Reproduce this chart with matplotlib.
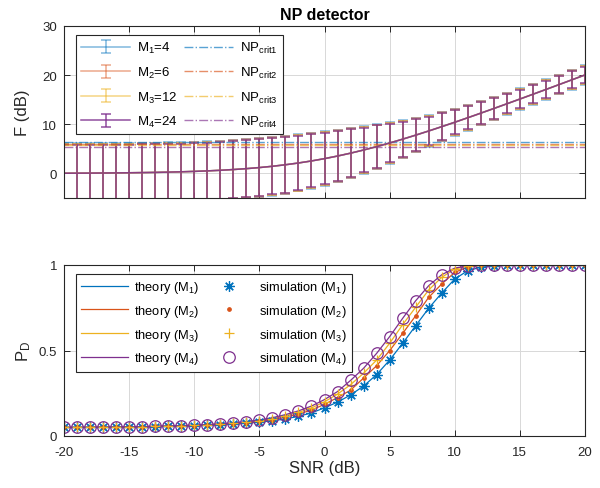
import matplotlib
matplotlib.use("Agg")
import matplotlib.pyplot as plt
import numpy as np

plt.rcParams['font.family'] = ['Liberation Sans', 'DejaVu Sans']
plt.rcParams['mathtext.fontset'] = 'custom'
plt.rcParams['mathtext.rm'] = 'Liberation Sans'
plt.rcParams['mathtext.it'] = 'Liberation Sans:italic'
plt.rcParams['axes.unicode_minus'] = False

# ---------------- data ----------------
snr = list(range(-20, 21))

F_mean = [0.043, 0.054, 0.068, 0.086, 0.108, 0.135, 0.170, 0.212, 0.266, 0.332,
          0.414, 0.515, 0.639, 0.791, 0.973, 1.193, 1.455, 1.764, 2.124, 2.539,
          3.010, 3.539, 4.124, 4.764, 5.455, 6.193, 6.973, 7.791, 8.639, 9.515,
          10.414, 11.332, 12.266, 13.212, 14.170, 15.135, 16.108, 17.086, 18.068, 19.054,
          20.043]

err_M1 = [6.05, 6.05, 6.05, 6.05, 6.05, 6.05, 6.05, 6.05, 6.05, 6.05,
          6.05, 6.05, 6.05, 6.05, 6.05, 6.05, 6.00, 5.95, 5.80, 5.70,
          5.55, 5.35, 5.15, 4.85, 4.60, 4.25, 3.85, 3.50, 3.20, 3.00,
          2.75, 2.60, 2.50, 2.35, 2.25, 2.15, 2.10, 2.05, 2.00, 2.00,
          1.95]
err_M2 = [5.95, 5.95, 5.95, 5.95, 5.95, 5.95, 5.95, 5.95, 5.95, 5.95,
          5.95, 5.95, 5.95, 5.95, 5.95, 5.95, 5.90, 5.85, 5.70, 5.60,
          5.45, 5.25, 5.05, 4.75, 4.50, 4.15, 3.75, 3.40, 3.10, 2.90,
          2.65, 2.50, 2.40, 2.25, 2.15, 2.05, 2.00, 1.95, 1.90, 1.90,
          1.85]
err_M3 = [5.85, 5.85, 5.85, 5.85, 5.85, 5.85, 5.85, 5.85, 5.85, 5.85,
          5.85, 5.85, 5.85, 5.85, 5.85, 5.85, 5.80, 5.75, 5.60, 5.50,
          5.35, 5.15, 4.95, 4.65, 4.40, 4.05, 3.65, 3.30, 3.00, 2.80,
          2.55, 2.40, 2.30, 2.15, 2.05, 1.95, 1.90, 1.85, 1.80, 1.80,
          1.75]
err_M4 = [5.75, 5.75, 5.75, 5.75, 5.75, 5.75, 5.75, 5.75, 5.75, 5.75,
          5.75, 5.75, 5.75, 5.75, 5.75, 5.75, 5.70, 5.65, 5.50, 5.40,
          5.25, 5.05, 4.85, 4.55, 4.30, 3.95, 3.55, 3.20, 2.90, 2.70,
          2.45, 2.30, 2.20, 2.05, 1.95, 1.85, 1.80, 1.75, 1.70, 1.70,
          1.65]

np_crit = [6.45, 6.05, 5.70, 5.30]

PD_M1 = [0.050, 0.050, 0.051, 0.051, 0.052, 0.053, 0.054, 0.055, 0.056, 0.058,
         0.060, 0.063, 0.066, 0.070, 0.075, 0.081, 0.089, 0.100, 0.115, 0.135,
         0.165, 0.198, 0.240, 0.292, 0.359, 0.444, 0.542, 0.645, 0.747, 0.836,
         0.918, 0.967, 0.987, 0.996, 1.0, 1.0, 1.0, 1.0, 1.0, 1.0, 1.0]
PD_M2 = [0.050, 0.050, 0.051, 0.051, 0.052, 0.053, 0.054, 0.056, 0.057, 0.059,
         0.061, 0.064, 0.068, 0.072, 0.078, 0.086, 0.096, 0.110, 0.128, 0.152,
         0.185, 0.225, 0.268, 0.339, 0.411, 0.499, 0.600, 0.703, 0.811, 0.889,
         0.957, 0.988, 0.998, 1.0, 1.0, 1.0, 1.0, 1.0, 1.0, 1.0, 1.0]
PD_M3 = [0.050, 0.051, 0.051, 0.052, 0.053, 0.054, 0.055, 0.056, 0.058, 0.060,
         0.063, 0.066, 0.070, 0.075, 0.081, 0.090, 0.102, 0.118, 0.138, 0.164,
         0.200, 0.245, 0.300, 0.367, 0.444, 0.542, 0.651, 0.753, 0.854, 0.928,
         0.977, 0.993, 0.999, 1.0, 1.0, 1.0, 1.0, 1.0, 1.0, 1.0, 1.0]
PD_M4 = [0.050, 0.051, 0.051, 0.052, 0.053, 0.054, 0.055, 0.057, 0.059, 0.061,
         0.064, 0.067, 0.071, 0.077, 0.084, 0.094, 0.107, 0.125, 0.147, 0.175,
         0.213, 0.260, 0.325, 0.396, 0.483, 0.581, 0.688, 0.791, 0.879, 0.943,
         0.982, 0.995, 0.999, 1.0, 1.0, 1.0, 1.0, 1.0, 1.0, 1.0, 1.0]

M_vals = [4, 6, 12, 24]
colors = ['#0072BD', '#D95319', '#EDB120', '#7E2F8E']
err_list = [err_M1, err_M2, err_M3, err_M4]
PD_list = [PD_M1, PD_M2, PD_M3, PD_M4]
sim_markers = [(8, 2, 0), '.', '+', 'o']

x_ticks = [-20, -15, -10, -5, 0, 5, 10, 15, 20]

# ---------------- figure ----------------
fig = plt.figure(figsize=(6.0, 4.89), dpi=100)
W, H = 600.0, 489.0
ax1 = fig.add_axes([64 / W, 1 - 199 / H, 521 / W, 172 / H])
ax2 = fig.add_axes([64 / W, 1 - 437 / H, 521 / W, 171 / H])

axcol = '#262626'
for ax in (ax1, ax2):
    ax.set_xlim(-20, 20)
    ax.set_xticks(x_ticks)
    ax.grid(True, color='#d8d8d8', linewidth=0.7)
    ax.set_axisbelow(True)
    ax.tick_params(direction='in', top=True, right=True, length=4,
                   width=0.7, colors=axcol, labelsize=9.5)
    ax.tick_params(axis='x', pad=7)
    ax.tick_params(axis='y', pad=5)
    for s in ax.spines.values():
        s.set_color(axcol)
        s.set_linewidth(0.8)

# ---- top: F (dB) ----
alphas = [0.5, 0.5, 0.55, 0.85]
handles1 = []
for i in range(4):
    eb = ax1.errorbar(snr, F_mean, yerr=err_list[i], color=colors[i],
                      capsize=3.3, elinewidth=1.1, capthick=1.1, linewidth=1.1,
                      alpha=alphas[i], label='M$_{%d}$=%d' % (i + 1, M_vals[i]))
    handles1.append(eb)
handles_np = []
for i in range(4):
    ln, = ax1.plot([-20, 20], [np_crit[i], np_crit[i]], linestyle='-.',
                   color=colors[i], linewidth=1.0, alpha=0.65,
                   label='NP$_{\\rm crit%d}$' % (i + 1))
    handles_np.append(ln)
ax1.set_ylim(-5, 30)
ax1.set_yticks([0, 10, 20, 30])
ax1.tick_params(labelbottom=False)
ax1.set_ylabel('F (dB)', fontsize=12, color=axcol, labelpad=9)
ax1.set_title('NP detector', fontsize=11.5, fontweight='bold', color='black', pad=5)
leg1 = ax1.legend(handles1 + handles_np,
                  [h.get_label() for h in handles1] + [h.get_label() for h in handles_np],
                  ncol=2, loc='upper left', bbox_to_anchor=(76 / W, 1 - 36 / H),
                  bbox_transform=fig.transFigure, fontsize=9.5, frameon=True,
                  fancybox=False, edgecolor=axcol, framealpha=1,
                  handlelength=3.7, handletextpad=0.5, columnspacing=0.5,
                  labelspacing=0.72, borderpad=0.4, borderaxespad=0)
leg1.get_frame().set_linewidth(0.8)

# ---- bottom: PD ----
th_handles = []
for i in range(4):
    ln, = ax2.plot(snr, PD_list[i], color=colors[i], linewidth=0.9,
                   label='theory (M$_{%d}$)' % (i + 1))
    th_handles.append(ln)
sim_handles = []
sizes = [7.5, 5, 7.5, 8.3]
for i in range(4):
    mfc = 'none' if i == 3 else colors[i]
    ln, = ax2.plot(snr, PD_list[i], linestyle='none', marker=sim_markers[i],
                   markersize=sizes[i], markerfacecolor=mfc,
                   markeredgecolor=colors[i], markeredgewidth=0.9,
                   label='simulation (M$_{%d}$)' % (i + 1))
    sim_handles.append(ln)
ax2.set_ylim(0, 1)
ax2.set_yticks([0, 0.5, 1])
ax2.set_yticklabels(['0', '0.5', '1'])
ax2.set_xlabel('SNR (dB)', fontsize=12, color=axcol, labelpad=2)
ax2.set_ylabel('P$_{\\rm D}$', fontsize=12, color=axcol)
leg2 = ax2.legend(th_handles + sim_handles,
                  [h.get_label() for h in th_handles] + [h.get_label() for h in sim_handles],
                  ncol=2, loc='upper left', bbox_to_anchor=(76 / W, 1 - 275 / H),
                  bbox_transform=fig.transFigure, fontsize=9.3, frameon=True,
                  fancybox=False, edgecolor=axcol, framealpha=1, numpoints=1,
                  handlelength=3.6, handletextpad=0.5, columnspacing=0.5,
                  labelspacing=0.6, borderpad=0.4, borderaxespad=0)
leg2.get_frame().set_linewidth(0.8)

fig.align_ylabels([ax1, ax2])
fig.savefig('out.png', dpi=100)
